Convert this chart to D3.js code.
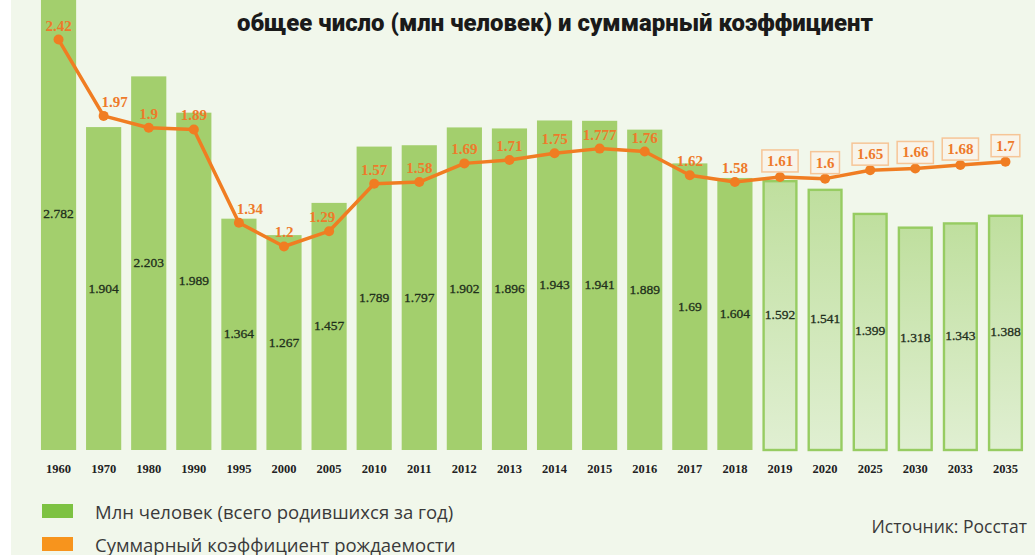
<!DOCTYPE html>
<html>
<head>
<meta charset="utf-8">
<script src="https://cdn.jsdelivr.net/npm/d3@7"></script>
<style>
  html, body { margin: 0; padding: 0; background: #ffffff; }
  #chart svg { display: block; }
</style>
</head>
<body>
<div id="chart"></div>
<script>
const years = ["1960", "1970", "1980", "1990", "1995", "2000", "2005", "2010", "2011", "2012", "2013",
  "2014", "2015", "2016", "2017", "2018", "2019", "2020", "2025", "2030", "2033", "2035"];
const births = [2.782, 1.904, 2.203, 1.989, 1.364, 1.267, 1.457, 1.789, 1.797, 1.902, 1.896,
  1.943, 1.941, 1.889, 1.69, 1.604, 1.592, 1.541, 1.399, 1.318, 1.343, 1.388];
const fertility = [2.42, 1.97, 1.9, 1.89, 1.34, 1.2, 1.29, 1.57, 1.58, 1.69, 1.71,
  1.75, 1.777, 1.76, 1.62, 1.58, 1.61, 1.6, 1.65, 1.66, 1.68, 1.7];
const forecastYears = ["2019", "2020", "2025", "2030", "2033", "2035"];
const legendLabels = ["Млн человек (всего родившихся за год)", "Суммарный коэффициент рождаемости"];

const width = 1035, height = 555;
const baseY = 450;

const data = years.map((y, i) => ({ year: y, births: births[i], tfr: fertility[i], forecast: forecastYears.includes(y) }));

const svg = d3.select("#chart").append("svg")
  .attr("width", width)
  .attr("height", height);

const defs = svg.append("defs");
const grad = defs.append("linearGradient").attr("id", "fc").attr("x1", 0).attr("y1", 0).attr("x2", 0).attr("y2", 1);
grad.append("stop").attr("offset", "0%").attr("stop-color", "#bfdf9e");
grad.append("stop").attr("offset", "100%").attr("stop-color", "#e0efd2");

// background
svg.append("rect").attr("x", 11).attr("y", 0).attr("width", width - 11).attr("height", height).attr("fill", "#f1f7eb");

const x = d3.scaleBand()
  .domain(years)
  .range([36, 1028])
  .paddingInner(0.22)
  .paddingOuter(0.11);

const y = d3.scaleLinear()
  .domain([0, 2.5])
  .range([baseY, baseY - 2.5 * 169.6]);

// title
svg.append("text")
  .attr("x", 555)
  .attr("y", 31)
  .attr("text-anchor", "middle")
  .attr("textLength", 636)
  .attr("lengthAdjust", "spacingAndGlyphs")
  .style("font-family", "Roboto, 'DejaVu Sans', sans-serif")
  .style("font-weight", 900)
  .style("font-size", "24px")
  .style("fill", "#1a1a1a")
  .text("общее число (млн человек) и суммарный коэффициент");

// bars
const bars = svg.append("g");
bars.selectAll("rect")
  .data(data)
  .enter()
  .append("rect")
  .attr("x", d => d.forecast ? x(d.year) + 1.2 : x(d.year))
  .attr("y", d => d.forecast ? y(d.births) + 1.2 : y(d.births))
  .attr("width", d => d.forecast ? x.bandwidth() - 2.4 : x.bandwidth())
  .attr("height", d => d.forecast ? baseY - y(d.births) - 1.2 : baseY - y(d.births))
  .attr("fill", d => d.forecast ? "url(#fc)" : "#a3cf6d")
  .attr("stroke", d => d.forecast ? "#97cc62" : "none")
  .attr("stroke-width", 2.4);

bars.selectAll(".bar-label")
  .data(data)
  .enter()
  .append("text")
  .attr("class", "bar-label")
  .attr("x", d => x(d.year) + x.bandwidth() / 2)
  .attr("y", d => y(d.births / 2) + 4)
  .attr("text-anchor", "middle")
  .style("font-family", "'Liberation Serif', serif")
  .style("font-size", "13.5px")
  .style("fill", "#1f2f1c")
  .style("stroke", "#1f2f1c")
  .style("stroke-width", 0.3)
  .text(d => String(d.births));

// x axis labels
const xAxis = d3.axisBottom(x).tickSize(0).tickPadding(0);
const axisG = svg.append("g")
  .attr("transform", `translate(0, ${baseY})`)
  .call(xAxis);
axisG.select(".domain").remove();
axisG.selectAll("text")
  .attr("y", 23)
  .attr("dy", null)
  .style("font-family", "'Liberation Serif', serif")
  .style("font-weight", "bold")
  .style("font-size", "12.5px")
  .style("fill", "#222");

// line
const line = d3.line()
  .x(d => x(d.year) + x.bandwidth() / 2)
  .y(d => y(d.tfr));

svg.append("path")
  .datum(data)
  .attr("d", line)
  .attr("fill", "none")
  .attr("stroke", "#f07d22")
  .attr("stroke-width", 3.5)
  .attr("stroke-linejoin", "round");

svg.selectAll(".dot")
  .data(data)
  .enter()
  .append("circle")
  .attr("class", "dot")
  .attr("cx", d => x(d.year) + x.bandwidth() / 2)
  .attr("cy", d => y(d.tfr))
  .attr("r", 5)
  .attr("fill", "#f07d22");

const labelShift = { "1970": 11, "1995": 11, "2005": -7 };

const lbl = svg.selectAll(".line-label")
  .data(data)
  .enter()
  .append("g")
  .attr("class", "line-label")
  .attr("transform", d => `translate(${x(d.year) + x.bandwidth() / 2 + (labelShift[d.year] || 0)}, ${y(d.tfr) - (d.forecast ? 11 : 9)})`);

lbl.filter(d => d.forecast)
  .append("rect")
  .attr("x", -15)
  .attr("y", -16)
  .attr("width", 30)
  .attr("height", 22)
  .attr("fill", "#f8f4ea")
  .attr("stroke", "#f6c597")
  .attr("stroke-width", 1.5);

lbl.append("text")
  .attr("text-anchor", "middle")
  .style("font-family", "'Liberation Serif', serif")
  .style("font-weight", "bold")
  .style("font-size", "15px")
  .style("fill", "#ee7a2a")
  .text(d => String(d.tfr));

lbl.filter(d => d.forecast).each(function() {
  const g = d3.select(this);
  const w = g.select("text").node().getComputedTextLength();
  g.select("rect").attr("x", -w / 2 - 5).attr("width", w + 10);
});

// legend
const legend = svg.append("g");
const legendColors = ["#7dc242", "#f7941d"];
legendLabels.forEach((t, i) => {
  legend.append("rect")
    .attr("x", 42).attr("y", 504 + i * 33)
    .attr("width", 31).attr("height", 14)
    .attr("fill", legendColors[i]);
  legend.append("text")
    .attr("x", 95).attr("y", 519 + i * 33)
    .style("font-family", "'Open Sans', 'Noto Sans', sans-serif")
    .style("font-size", "18.5px")
    .style("fill", "#3a3a3a")
    .text(t);
});

svg.append("text")
  .attr("x", 1027)
  .attr("y", 533)
  .attr("text-anchor", "end")
  .style("font-family", "'Open Sans', 'Noto Sans', sans-serif")
  .style("font-size", "17.5px")
  .style("fill", "#3a3a3a")
  .text("Источник: Росстат");
</script>
</body>
</html>
